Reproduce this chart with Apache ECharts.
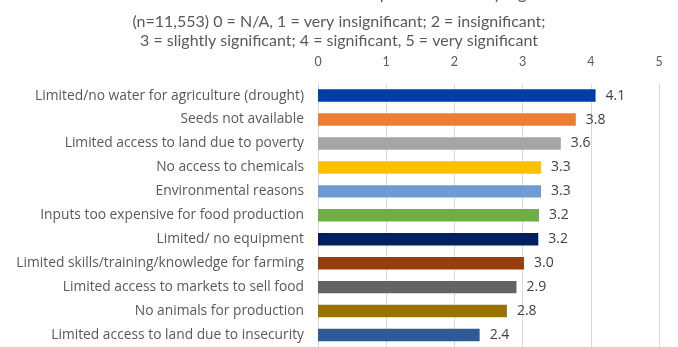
<!DOCTYPE html>
<html>
<head>
<meta charset="utf-8">
<title>Reasons households are unable to produce food</title>
<script src="https://cdn.jsdelivr.net/npm/echarts@6/dist/echarts.min.js"></script>
<style>
  html, body { margin: 0; padding: 0; background: #ffffff; }
  #chart { width: 678px; height: 347px; }
</style>
</head>
<body>
<div id="chart"></div>
<script>
// Mean significance score per reason (0 = N/A ... 5 = very significant)
const categories = [
  'Limited/no water for agriculture (drought)',
  'Seeds not available',
  'Limited access to land due to poverty',
  'No access to chemicals',
  'Environmental reasons',
  'Inputs too expensive for food production',
  'Limited/ no equipment',
  'Limited skills/training/knowledge for farming',
  'Limited access to markets to sell food',
  'No animals for production',
  'Limited access to land due to insecurity'
];
const scores = [4.07, 3.78, 3.56, 3.27, 3.27, 3.24, 3.23, 3.02, 2.91, 2.77, 2.37];
const barColors = [
  '#003da5', '#ed7d31', '#a5a5a5', '#ffc000', '#6f9bd4', '#70ad47',
  '#002060', '#953f0f', '#636363', '#997300', '#2e5a95'
];
const scaleTicks = [0, 1, 2, 3, 4, 5];

const mainTitle = 'Main reasons households are unable to produce food by significance';
const scaleNote = [
  '(n=11,553) 0 = N/A, 1 = very insignificant; 2 = insignificant;',
  '3 = slightly significant; 4 = significant, 5 = very significant'
];

const chart = echarts.init(document.getElementById('chart'), null, { renderer: 'canvas' });

chart.setOption({
  animation: false,
  title: [{
    text: mainTitle,
    left: 'center',
    top: -16.5,
    padding: 0,
    textStyle: {
      fontFamily: 'Lato',
      fontSize: 17,
      fontWeight: 'normal',
      lineHeight: 20,
      color: '#595959'
    }
  }, {
    text: scaleNote.join('\n'),
    left: 'center',
    top: 12,
    padding: 0,
    textStyle: {
      fontFamily: 'Lato',
      fontSize: 16,
      fontWeight: 'normal',
      lineHeight: 19,
      color: '#595959'
    }
  }],
  grid: {
    left: 318,
    right: 19,
    top: 83.6,
    height: 267,
    containLabel: false
  },
  xAxis: {
    type: 'value',
    position: 'top',
    min: scaleTicks[0],
    max: scaleTicks[scaleTicks.length - 1],
    interval: 1,
    axisLine: { show: false },
    axisTick: { show: false },
    axisLabel: {
      margin: 15,
      fontFamily: 'Lato',
      fontSize: 12.5,
      color: '#595959'
    },
    splitLine: { show: true, lineStyle: { color: '#d9d9d9', width: 1 } }
  },
  yAxis: {
    type: 'category',
    data: categories,
    inverse: true,
    axisLine: { show: true, lineStyle: { color: '#d9d9d9', width: 1 } },
    axisTick: { show: false },
    axisLabel: {
      margin: 14,
      fontFamily: 'Open Sans',
      fontSize: 13.8,
      color: '#595959'
    }
  },
  series: [{
    type: 'bar',
    data: scores.map((v, i) => ({ value: v, itemStyle: { color: barColors[i] } })),
    barWidth: '52%',
    label: {
      show: true,
      position: 'right',
      distance: 10,
      fontFamily: 'Open Sans',
      fontSize: 14,
      color: '#404040',
      formatter: p => p.value.toFixed(1)
    }
  }]
});
</script>
</body>
</html>
